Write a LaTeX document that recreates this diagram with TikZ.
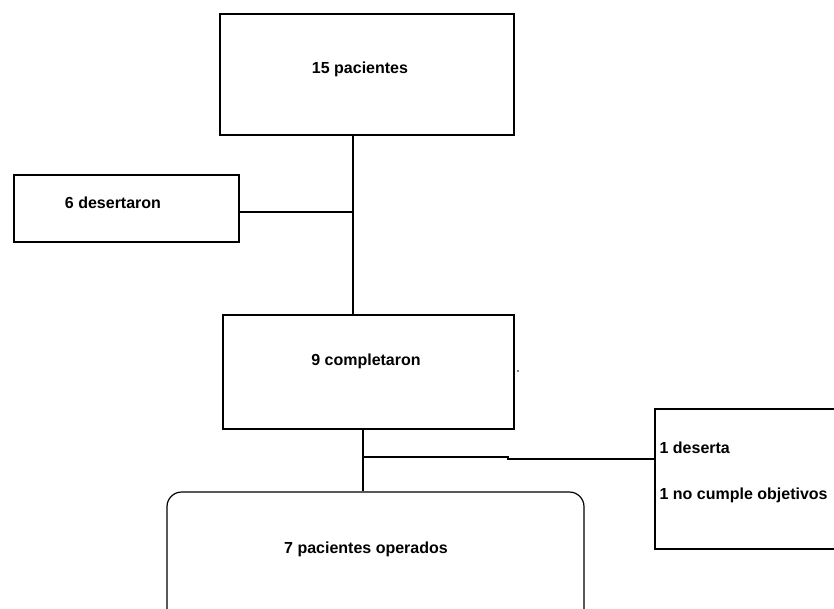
\documentclass[tikz,border=0pt]{standalone}
\usepackage{fontspec}
\setmainfont{Liberation Sans}
\begin{document}
\begin{tikzpicture}[x=0.75pt,y=-0.75pt,
  line width=0.9pt,
  box/.style={draw,rectangle,inner sep=0pt},
  lbl/.style={font=\bfseries\fontsize{12}{14}\selectfont,inner sep=0pt}]
\useasboundingbox (0,0) rectangle (834,608);
\clip (0,0) rectangle (834,608);
% boxes
\node[box,minimum width=220.5pt,minimum height=90.75pt] (b1) at (367,74.5) {};
\node[lbl] (t1) at (360,69) {15 pacientes};
\node[box,minimum width=168.75pt,minimum height=50.25pt] (b2) at (126.5,208.5) {};
\node[lbl] (t2) at (113,203) {6 desertaron};
\node[box,minimum width=218.25pt,minimum height=85.5pt] (b3) at (368.5,372) {};
\node[lbl] (t3) at (366,361) {9 completaron};
\node[box,rounded corners=11pt,minimum width=312.75pt,minimum height=111pt] (b4) at (375.5,566) {};
\node[lbl] (t4) at (366,549) {7 pacientes operados};
\node[box,minimum width=146.25pt,minimum height=105pt] (b5) at (752.5,479) {};
\node[lbl,anchor=west] (t5a) at (659,448) {1 deserta};
\node[lbl,anchor=west] (t5b) at (659,495) {1 no cumple objetivos};
% stray dot
\fill (518,371) circle (0.6pt);
% connectors
\coordinate (j1) at (353,212);
\draw (j1 |- b1.south) -- (j1 |- b3.north);
\draw (b2.east |- j1) -- (j1);
\coordinate (j2) at (363,457);
\coordinate (k) at (508,459);
\draw (j2 |- b3.south) -- (j2 |- b4.north);
\draw (j2) -- (k |- j2) -- (k) -- (b5.west |- k);
\end{tikzpicture}
\end{document}
